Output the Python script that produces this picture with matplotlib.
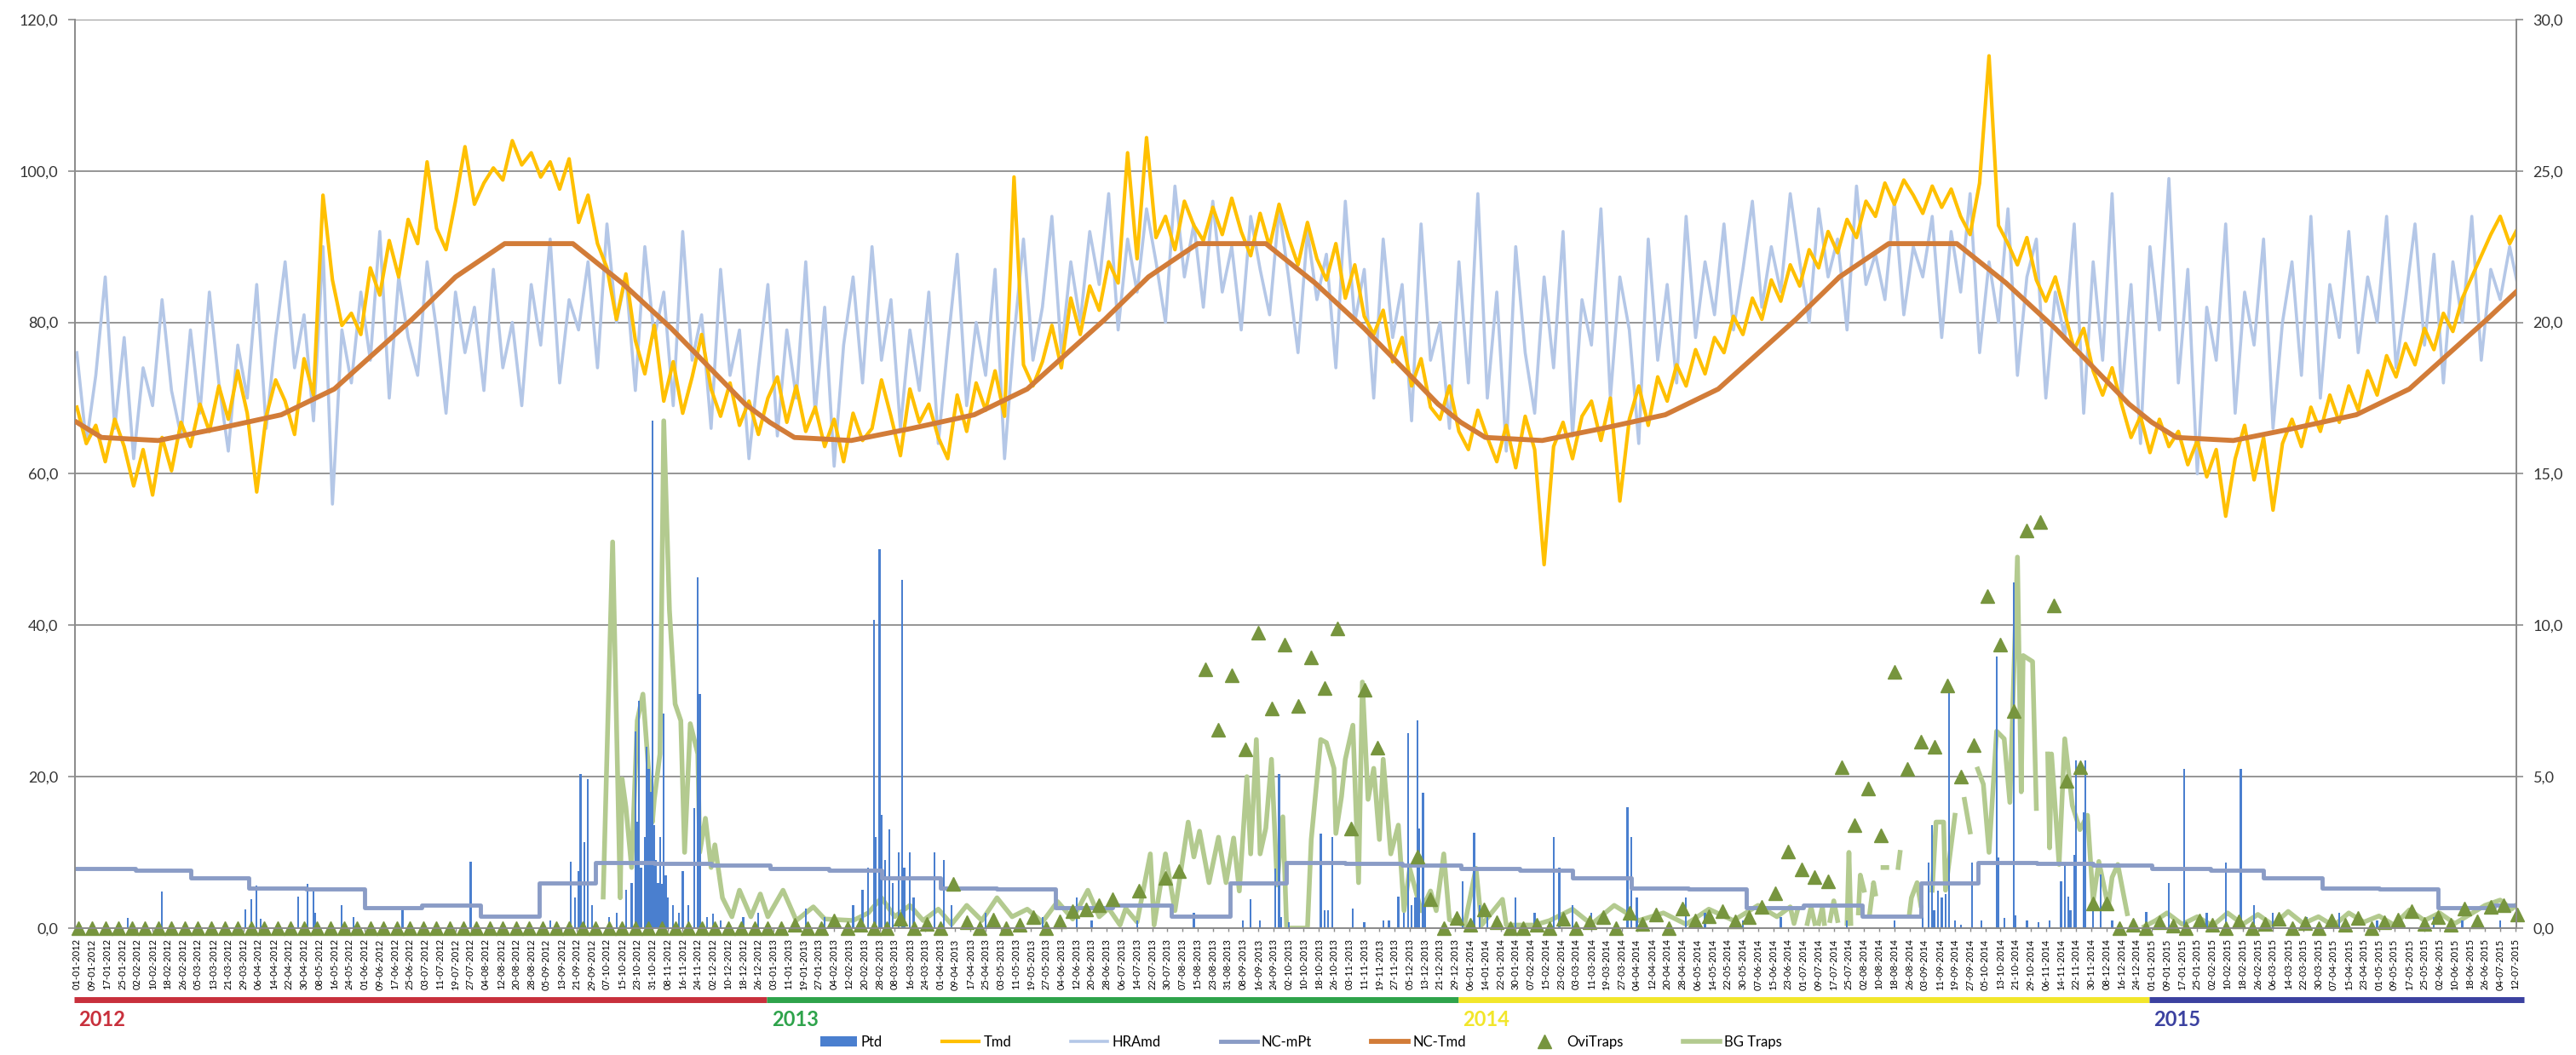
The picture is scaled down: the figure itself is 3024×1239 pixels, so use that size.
import numpy as np
import pandas as pd
import matplotlib
matplotlib.use('Agg')
import matplotlib.pyplot as plt
import matplotlib.transforms as mtransforms
from matplotlib.ticker import FuncFormatter, MultipleLocator
from matplotlib.lines import Line2D
from matplotlib.patches import Patch

plt.rcParams['font.family'] = ['Lato', 'DejaVu Sans']
nan = np.nan

# day 0 = 01-01-2012, daily series up to mid July 2015
start = pd.Timestamp('2012-01-01')
last_day = 1290

# Tmd (deg C, right axis) read every 5 days
tmd_step = 5
tmd = [
    17.2, 16.0, 16.6, 15.4, 16.8, 15.9,
    14.6, 15.8, 14.3, 16.2, 15.1, 16.7,
    15.9, 17.3, 16.4, 17.9, 16.8, 18.4,
    17.0, 14.4, 16.9, 18.1, 17.4, 16.3,
    18.8, 17.6, 24.2, 21.4, 19.9, 20.3,
    19.6, 21.8, 20.9, 22.7, 21.5, 23.4,
    22.6, 25.3, 23.1, 22.4, 24.0, 25.8,
    23.9, 24.6, 25.1, 24.7, 26.0, 25.2,
    25.6, 24.8, 25.3, 24.4, 25.4, 23.3,
    24.2, 22.6, 21.8, 20.1, 21.6, 19.4,
    18.3, 19.9, 17.4, 18.7, 17.0, 18.2,
    19.6, 17.8, 16.9, 18.0, 16.6, 17.4,
    16.3, 17.5, 18.2, 16.7, 17.9, 16.4,
    17.2, 15.9, 16.8, 15.4, 17.0, 16.1,
    16.5, 18.1, 16.9, 15.6, 17.8, 16.7,
    17.3, 16.2, 15.5, 17.6, 16.4, 18.0,
    17.1, 18.4, 16.9, 24.8, 18.6, 17.9,
    18.7, 19.9, 18.5, 20.8, 19.6, 21.2,
    20.4, 22.0, 21.3, 25.6, 22.1, 26.1,
    22.8, 23.5, 22.4, 24.0, 23.2, 22.7,
    23.8, 22.9, 24.1, 23.0, 22.2, 23.6,
    22.5, 23.9, 22.8, 21.9, 23.3, 22.1,
    21.4, 22.6, 20.8, 21.9, 20.2, 19.6,
    20.4, 18.7, 19.5, 17.9, 18.8, 17.2,
    16.8, 17.9, 16.4, 15.8, 17.1, 16.2,
    15.4, 16.6, 15.2, 16.9, 15.8, 12.0,
    15.9, 16.7, 15.5, 16.9, 17.4, 16.1,
    17.5, 14.1, 16.8, 17.9, 16.6, 18.2,
    17.4, 18.6, 17.9, 19.1, 18.3, 19.5,
    19.0, 20.2, 19.6, 20.8, 20.1, 21.4,
    20.7, 21.9, 21.2, 22.4, 21.8, 23.0,
    22.3, 23.4, 22.8, 24.0, 23.5, 24.6,
    23.9, 24.7, 24.2, 23.6, 24.5, 23.8,
    24.4, 23.5, 22.9, 24.6, 28.8, 23.2,
    22.6, 21.9, 22.8, 21.4, 20.7, 21.5,
    20.3, 19.1, 19.8, 18.4, 17.6, 18.5,
    17.3, 16.2, 16.9, 15.7, 16.8, 15.9,
    16.4, 15.3, 16.1, 14.9, 15.8, 13.6,
    15.5, 16.6, 14.8, 16.2, 13.8, 16.0,
    16.8, 15.9, 17.2, 16.4, 17.6, 16.7,
    17.9, 17.1, 18.4, 17.6, 18.9, 18.2,
    19.3, 18.6, 19.8, 19.1, 20.3, 19.7,
    20.8, 21.5, 22.2, 22.9, 23.5, 22.6,
    23.2,
]

# HRAmd (%, left axis) read every 5 days
hra = [
    76, 64, 73, 86, 66, 78,
    62, 74, 69, 83, 71, 65,
    79, 68, 84, 72, 63, 77,
    70, 85, 66, 78, 88, 74,
    81, 67, 90, 56, 79, 72,
    84, 75, 92, 70, 86, 78,
    73, 88, 79, 68, 84, 76,
    82, 71, 87, 74, 80, 69,
    85, 77, 91, 72, 83, 79,
    88, 74, 93, 80, 86, 71,
    90, 78, 84, 69, 92, 75,
    81, 66, 87, 73, 79, 62,
    74, 85, 65, 79, 70, 88,
    68, 82, 61, 77, 86, 72,
    90, 75, 83, 66, 79, 71,
    84, 64, 77, 89, 69, 80,
    73, 87, 62, 78, 91, 75,
    82, 94, 76, 88, 80, 92,
    85, 97, 79, 91, 84, 95,
    88, 80, 98, 86, 93, 82,
    96, 84, 90, 79, 94, 87,
    81, 95, 86, 76, 92, 83,
    89, 74, 96, 80, 87, 70,
    91, 78, 85, 67, 93, 75,
    80, 66, 88, 72, 97, 70,
    84, 63, 90, 76, 68, 86,
    74, 92, 65, 83, 77, 95,
    70, 86, 79, 64, 91, 75,
    85, 72, 94, 78, 88, 81,
    93, 79, 87, 96, 82, 90,
    84, 97, 88, 80, 95, 86,
    91, 79, 98, 85, 89, 83,
    96, 81, 90, 86, 94, 78,
    92, 84, 97, 76, 88, 80,
    95, 73, 86, 91, 70, 84,
    78, 93, 68, 88, 75, 97,
    70, 85, 64, 90, 79, 99,
    72, 87, 60, 82, 75, 93,
    68, 84, 77, 91, 66, 80,
    88, 73, 94, 70, 85, 78,
    92, 76, 86, 80, 94, 74,
    83, 93, 77, 89, 72, 88,
    80, 94, 75, 87, 83, 90,
    84,
]

# Ptd daily rain (mm), only rainy days
ptd_day = [27, 45, 89, 92, 95, 97, 117, 122, 125, 126, 140, 146, 172, 208, 250,
           261, 263, 265, 266, 268, 270, 272, 281, 285, 290, 293, 295, 296, 297, 298,
           300, 301, 302, 303, 304, 305, 306, 307, 308, 309, 310, 311, 312, 315, 318,
           320, 323, 326, 328, 329, 333, 336, 340, 352, 360,
           385, 395, 410, 415, 418, 421, 422, 424, 425, 427, 429, 431, 434, 436, 437,
           440, 442, 453, 458, 462, 480, 510, 519, 528, 536, 560, 590, 616, 620, 625,
           633, 635, 636, 640, 657, 659, 661, 663, 674, 680, 690, 693, 698, 701, 703,
           705, 707, 708, 709, 711, 712, 732, 738, 741, 745, 750,
           760, 770, 780, 783, 790, 800, 819, 821, 824, 850, 860, 880, 900, 935, 960,
           975, 978, 980, 981, 983, 985, 987, 989, 992, 995, 1001, 1006, 1014, 1015, 1018,
           1023, 1024, 1030, 1036, 1042, 1048, 1050, 1052, 1053, 1055, 1056, 1060, 1061,
           1065, 1069, 1075,
           1093, 1105, 1113, 1125, 1135, 1143, 1150, 1160, 1178, 1195, 1215, 1245, 1260, 1280]
ptd_mm = [1.3, 4.8, 2.5, 3.8, 5.6, 1.2, 4.2, 5.8, 5.0, 2.0, 3.0, 1.5, 2.7, 8.8, 1.0,
          8.8, 4.0, 7.5, 20.3, 11.4, 19.7, 3.0, 1.5, 2.0, 5.0, 6.0, 26.0, 14.0, 30.0, 8.0,
          12.0, 24.0, 21.0, 18.0, 67.0, 13.6, 9.0, 6.0, 12.0, 5.8, 28.3, 7.0, 4.0, 3.0, 2.0,
          7.5, 3.0, 15.8, 46.3, 30.9, 1.5, 1.9, 1.0, 1.5, 2.0,
          2.6, 1.5, 3.0, 5.0, 8.0, 40.7, 12.0, 50.0, 15.0, 9.0, 13.0, 6.0, 10.0, 46.0, 8.0,
          10.0, 4.0, 10.0, 9.0, 3.0, 2.0, 1.5, 1.0, 4.0, 1.0, 1.0, 2.0, 1.0, 3.8, 1.0,
          7.9, 20.4, 1.5, 0.8, 12.5, 2.3, 2.3, 12.0, 2.6, 0.8, 1.0, 1.0, 4.2, 2.0, 25.7,
          3.0, 4.0, 27.4, 13.2, 17.9, 3.0, 6.2, 12.6, 3.0, 2.3, 1.0,
          4.0, 2.0, 12.0, 8.0, 3.0, 2.0, 16.0, 12.0, 4.0, 4.0, 2.0, 1.0, 1.5, 1.0, 1.0,
          3.0, 8.6, 13.6, 2.3, 4.9, 4.0, 4.5, 32.2, 1.0, 0.5, 8.6, 1.0, 35.9, 9.3, 1.3,
          45.6, 1.7, 1.0, 0.8, 1.0, 6.2, 8.4, 4.1, 2.3, 9.7, 22.2, 15.3, 22.2,
          3.0, 7.1, 1.0,
          2.1, 6.0, 21.0, 2.0, 8.6, 21.0, 3.0, 2.0, 1.5, 2.0, 1.0, 1.5, 1.0, 1.0]

# NC-mPt monthly normal rain, Jan 2012 .. Jul 2015
nc_mpt = [7.9, 7.6, 6.6, 5.3, 5.2, 2.7, 3.0, 1.6, 6.0, 8.7, 8.5, 8.3,
          7.9, 7.6, 6.6, 5.3, 5.2, 2.7, 3.0, 1.6, 6.0, 8.7, 8.5, 8.3,
          7.9, 7.6, 6.6, 5.3, 5.2, 2.7, 3.0, 1.6, 6.0, 8.7, 8.5, 8.3,
          7.9, 7.6, 6.6, 5.3, 5.2, 2.7, 3.0]

# NC-Tmd normal temperature (deg C) break points
nc_tmd_day = [0, 13, 43, 75, 108, 136, 177, 200, 226, 262, 288, 314, 353,
              366, 379, 409, 441, 474, 502, 543, 566, 592, 628, 654, 680, 719,
              731, 744, 774, 806, 839, 867, 908, 931, 957, 993, 1019, 1045, 1084,
              1096, 1109, 1139, 1171, 1204, 1232, 1273, 1290]
nc_tmd = [16.7, 16.2, 16.1, 16.5, 16.95, 17.8, 20.1, 21.5, 22.6, 22.6, 21.3, 19.8, 17.3,
          16.7, 16.2, 16.1, 16.5, 16.95, 17.8, 20.1, 21.5, 22.6, 22.6, 21.3, 19.8, 17.3,
          16.7, 16.2, 16.1, 16.5, 16.95, 17.8, 20.1, 21.5, 22.6, 22.6, 21.3, 19.8, 17.3,
          16.7, 16.2, 16.1, 16.5, 16.95, 17.8, 20.1, 21.1]

# OviTraps, weekly (first reading on day 1)
ovi_step = 7
ovi = [
    0, 0, 0, 0, 0, 0, 0, 0, 0, 0, 0, 0, 0, 0, 0, 0, 0, 0, 0, 0, 0, 0, 0, 0, 0, 0,
    0, 0, 0, 0, 0, 0, 0, 0, 0, 0, 0, 0, 0, 0, 0, 0, 0, 0, 0, 0, 0, 0, 0, 0, 0, 0, 0,
    0, 0.5, 0, 0, 1.0, 0, 0.4, 0, 0, 1.2, 0, 0.6, 0, 5.8, 0.8, 0, 1.1, 0, 0.5, 1.4,
    0, 0.9, 2.2, 2.5, 3.0,
    3.8, nan, 4.9, nan, 6.6, 7.5, nan, 34.2, 26.2, 33.4, 23.6, 39.0, 29.0, 37.5, 29.4,
    35.8, 31.7, 39.6, 13.2, 31.5, 23.8, nan, nan, 9.4, 3.8, 0, 1.3, 0.4, 2.5, 0.8, 0, 0,
    0.5, 0, 1.2, 0, 0.8, 1.5, 0, 2.0, 0.6, 1.8, 0, 2.6, 1.0, 1.6, 2.2, 0.9, 1.5, 2.8, 4.6,
    10.1, 7.7, 6.7, 6.2, 21.2, 13.6, 18.4, 12.3, 33.9, 21.0, 24.6, 24.0, 32.0, 20.0,
    24.2, 43.9, 37.4, 28.7, 52.5, 53.6, 42.6, 19.4, 21.2, 3.2, 3.2, 0,
    0.5, 0, 0.8, 0.3, 0, 1.0, 0.4, 0, 0.9, 0, 0.6, 1.2, 0, 0.7, 0, 1.0, 0.4, 1.3, 0,
    0.8, 1.1, 2.2, 0.6, 1.5, 0.4, 2.6, 0.9, 2.8, 3.0, 1.8,
]

# BG Traps (gaps = no reading)
bg_day = [278, 283, 287, 288, 290, 293, 296, 299, 304, 305, 308, 310, 313, 316, 319,
          321, 324, 328, 329, 332, 335, 337, 341, 346, 350, 356, 361, 365, 373, 380,
          385, 389, 395, 410, 418, 425, 432, 440, 447, 455, 462, 470, 478, 486, 494,
          502, 510, 518, 526, 534, 540,
          545, 551, 554, 560, 567, 569, 575, 580, 587, 590, 593, 598, 603, 607, 611,
          614, 618, 620, 623, 625, 628, 631, 634, 637, 639, 644, 650, 652, 657, 660,
          664, 665, 668, 670, 674, 677, 679, 682, 685, 688, 690, 694, 698, 701, 704,
          710, 715, 718, 722, 725, 733, 739, 742, 753, 755, 770,
          778, 790, 800, 812, 825, 838, 850, 862, 875, 888, 898,
          905, 907, 909, 910, 914, 916, 918, 919, 920, 922, 923, 924, 926, 928, 930, 931,
          935, 936, 937, 938, 941, 942, 944, 945, 947, 949, 950, 951, 954, 956, 957,
          962, 963, 964, 968, 969, 972, 974, 975, 980, 982, 986, 987, 992, 993, 997, 1000,
          1001, 1004, 1007, 1010, 1014, 1018, 1021, 1025, 1027, 1028, 1033, 1035, 1036,
          1041, 1042, 1043, 1047, 1050, 1054, 1058, 1062, 1065, 1068, 1073, 1075, 1078,
          1083, 1084,
          1092, 1098, 1104, 1112, 1120, 1128, 1136, 1144, 1152, 1160, 1168, 1176, 1184,
          1192, 1200, 1208, 1216, 1224, 1232, 1240, 1248, 1256, 1264, 1272, 1280, 1286, 1290]
bg_val = [4.1, 51.0, 4.0, 19.7, 16.0, 8.0, 27.4, 30.9, 14.0, 17.0, 23.0, 67.0, 42.0, 29.6, 27.4,
          10.0, 27.0, 23.0, 10.0, 14.5, 8.0, 11.0, 4.0, 1.5, 5.0, 1.5, 4.5, 1.5, 5.0, 1.0,
          2.0, 2.8, 1.2, 1.0, 2.0, 4.0, 1.5, 3.0, 1.0, 2.5, 0.5, 3.0, 1.0, 4.0, 1.5,
          2.5, 0.8, 3.5, 1.2, 5.0, 1.5,
          2.6, 0.4, 2.6, 0.8, 9.8, 0.4, 9.8, 2.3, 14.0, 9.4, 12.8, 6.0, 12.0, 6.0, 11.9,
          4.9, 20.0, 9.8, 24.9, 9.8, 13.2, 22.3, 5.7, 14.7, 0.0, 0.0, 0.0, 11.7, 24.9, 24.5,
          21.1, 12.5, 17.4, 22.3, 26.8, 6.0, 32.5, 17.0, 21.1, 11.7, 22.3, 9.8, 13.6, 2.3, 7.9,
          2.3, 4.9, 2.3, 9.8, 1.1, 0.4, 7.9, 0.4, 3.8, 0.4, 0.4,
          1.0, 2.5, 0.5, 3.0, 1.0, 2.0, 0.5, 2.5, 1.0, 3.0, 1.5,
          2.8, 0.6, 2.5, nan, 0.6, 2.8, 0.6, nan, 0.6, 2.8, 0.6, nan, 1.0, 3.6, 1.0, nan,
          0.6, 10.0, 0.6, nan, 2.0, 7.0, 5.0, nan, 2.0, 6.0, 4.5, nan, 8.0, 8.0, nan,
          8.0, 10.0, nan, 2.0, 4.0, 6.0, 3.0, nan, 5.0, 14.0, 14.0, 5.0, 14.9, nan, 17.0, 12.7,
          nan, 21.0, 19.0, 10.0, 26.0, 25.0, 16.6, 49.0, 18.0, 36.0, 35.2, 15.8, nan,
          23.0, 10.6, 23.0, 8.4, 25.0, 16.2, 13.0, 14.9, 3.6, 8.8, 2.8, 6.7, 8.4,
          1.9, nan,
          0.2, 1.0, 2.0, 0.5, 1.5, 0.3, 2.0, 0.5, 1.8, 0.4, 2.2, 0.6, 1.5,
          0.3, 2.0, 0.8, 1.6, 0.4, 2.4, 1.0, 2.0, 0.6, 1.8, 3.0, 3.7, 2.5, 3.4]

years = ['2012', '2013', '2014', '2015']
year_colors = ['#c8303c', '#2ea34b', '#f2e62a', '#3b41a0']

# ---- positions from the dates ----
tmd_x = np.arange(0, last_day + 1, tmd_step)
ovi_x = np.arange(1, last_day, ovi_step)
month_starts = pd.date_range('2012-01-01', periods=len(nc_mpt), freq='MS')
mpt_x = list((month_starts - start).days) + [last_day]
mpt_y = nc_mpt + [nc_mpt[-1]]
year_x = [(pd.Timestamp(y + '-01-01') - start).days for y in years] + [last_day + 4]

fig = plt.figure(figsize=(30.24, 12.39), dpi=100)
ax = fig.add_axes([0.0291, 0.1203, 0.9478, 0.8612])
ax2 = ax.twinx()

ax.plot(tmd_x, hra, color='#b4c7e7', lw=2.6, zorder=2)
ax.plot(bg_day, bg_val, color='#b3ca8f', lw=4, zorder=3)
ax.bar(ptd_day, ptd_mm, width=1.0, color='#4a7fcf', zorder=4)
ax.step(mpt_x, mpt_y, where='post', color='#8a9cc6', lw=3.5, zorder=5)
ax.plot(ovi_x, ovi, linestyle='none', marker='^', markersize=11,
        color='#77953e', zorder=6, clip_on=False)

ax2.plot(tmd_x, tmd, color='#ffc000', lw=3, zorder=2)
ax2.plot(nc_tmd_day, nc_tmd, color='#d27c38', lw=4.2, zorder=3)

ax.set_xlim(-1, 1288.6)
ax.set_ylim(0, 120)
ax2.set_ylim(0, 30)
ax.yaxis.set_major_locator(MultipleLocator(20))
ax2.yaxis.set_major_locator(MultipleLocator(5))
fmt = FuncFormatter(lambda v, p: f'{v:.1f}'.replace('.', ','))
ax.yaxis.set_major_formatter(fmt)
ax2.yaxis.set_major_formatter(fmt)

ax.yaxis.grid(True, color='#8c8c8c', lw=1.3)
ax.set_axisbelow(True)

for a in (ax, ax2):
    a.spines['top'].set_visible(False)
    for s in ('left', 'right', 'bottom'):
        a.spines[s].set_color('#8c8c8c')
        a.spines[s].set_linewidth(1.3)
    a.tick_params(axis='y', length=6, width=1.2, color='#8c8c8c',
                  labelsize=13, labelcolor='#333333', pad=8)

# date labels every 8 days
tick_days = np.arange(0, last_day, 8)
tick_labels = [(start + pd.Timedelta(days=int(d))).strftime('%d-%m-%Y') for d in tick_days]
ax.set_xticks(tick_days)
ax.set_xticklabels(tick_labels, rotation=90, fontsize=8)
ax.tick_params(axis='x', length=3, width=1, color='#8c8c8c', pad=6)

# coloured year bands under the dates
trans = mtransforms.blended_transform_factory(ax.transData, ax.transAxes)
for i, yr in enumerate(years):
    ax.plot([year_x[i] - 1.5, year_x[i + 1] - 1.5], [-0.079, -0.079], transform=trans,
            color=year_colors[i], lw=5, solid_capstyle='butt', clip_on=False)
    ax.text(year_x[i] + 1, -0.101, yr, transform=trans, color=year_colors[i],
            fontsize=17, fontweight='bold', ha='left', va='center')

handles = [
    Patch(facecolor='#4a7fcf'),
    Line2D([], [], color='#ffc000', lw=3),
    Line2D([], [], color='#b4c7e7', lw=2.6),
    Line2D([], [], color='#8a9cc6', lw=3.5),
    Line2D([], [], color='#d27c38', lw=4.2),
    Line2D([], [], linestyle='none', marker='^', markersize=11, color='#77953e'),
    Line2D([], [], color='#b3ca8f', lw=4),
]
labels = ['Ptd', 'Tmd', 'HRAmd', 'NC-mPt', 'NC-Tmd', 'OviTraps', 'BG Traps']
fig.legend(handles, labels, loc='center', bbox_to_anchor=(0.505, 0.012), ncol=7,
           frameon=False, fontsize=12, handlelength=2.6, handletextpad=0.3,
           columnspacing=4.2)

fig.savefig('out.png', dpi=100)
